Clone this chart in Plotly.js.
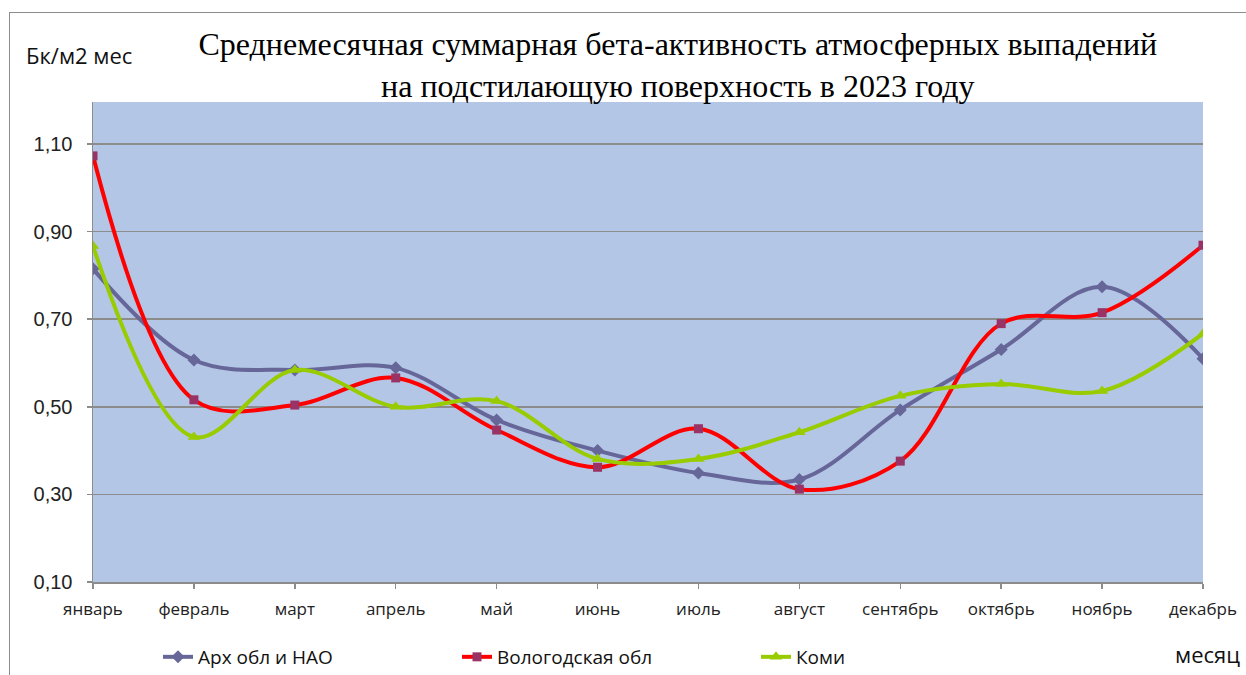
<!DOCTYPE html>
<html>
<head>
<meta charset="utf-8">
<script src="https://cdn.plot.ly/plotly-3.0.1.min.js"></script>
<style>
  html, body { margin: 0; padding: 0; background: #fff; }
  #wrap { position: relative; width: 1246px; height: 675px; overflow: hidden; }
  #chart { width: 1246px; height: 675px; }
  #frame { position: absolute; left: 9px; top: 12px; width: 1400px; height: 800px;
           border-left: 1.5px solid #8c8c8c; border-top: 1.5px solid #8c8c8c; pointer-events: none; }
</style>
</head>
<body>
<div id="wrap">
  <div id="chart"></div>
  <div id="frame"></div>
</div>
<script>
const months = ["январь","февраль","март","апрель","май","июнь","июль","август","сентябрь","октябрь","ноябрь","декабрь"];
const arkh   = [0.815, 0.607, 0.584, 0.589, 0.470, 0.400, 0.349, 0.334, 0.493, 0.631, 0.774, 0.610];
const vologda= [1.073, 0.516, 0.504, 0.566, 0.447, 0.362, 0.450, 0.312, 0.376, 0.690, 0.715, 0.869];
const komi   = [0.867, 0.431, 0.584, 0.500, 0.513, 0.381, 0.381, 0.442, 0.525, 0.552, 0.536, 0.667];
const seriesNames = ["Арх обл и НАО", "Вологодская обл", "Коми"];
const yTicks = [0.10, 0.30, 0.50, 0.70, 0.90, 1.10];

const traces = [
  {x: months, y: arkh, name: seriesNames[0], type: 'scatter', mode: 'lines+markers',
   line: {color: '#666699', width: 4, shape: 'spline', smoothing: 1},
   marker: {symbol: 'diamond', size: 10, color: '#666699'}},
  {x: months, y: vologda, name: seriesNames[1], type: 'scatter', mode: 'lines+markers',
   line: {color: '#FF0000', width: 4, shape: 'spline', smoothing: 1},
   marker: {symbol: 'square', size: 9, color: '#993366'}},
  {x: months, y: komi, name: seriesNames[2], type: 'scatter', mode: 'lines+markers',
   line: {color: '#99CC00', width: 4, shape: 'spline', smoothing: 1},
   marker: {symbol: 'triangle-up', size: 11, color: '#99CC00'}}
];

const layout = {
  width: 1246, height: 675,
  margin: {l: 93, r: 43, t: 102, b: 93, autoexpand: false},
  paper_bgcolor: 'rgba(0,0,0,0)',
  plot_bgcolor: '#B3C6E6',
  separators: ', ',
  showlegend: true,
  title: {
    text: 'Среднемесячная суммарная бета-активность атмосферных выпадений<br>на подстилающую поверхность в 2023 году',
    font: {family: 'Liberation Serif, Times New Roman, serif', size: 32, color: '#000'},
    x: 0.544, xanchor: 'center', xref: 'container',
    y: 0.918, yanchor: 'top', yref: 'container'
  },
  xaxis: {
    type: 'category', range: [0, 11],
    showgrid: false, zeroline: false,
    showline: true, linecolor: '#8c8c8c', linewidth: 1.5,
    ticks: 'outside', ticklen: 5, tickcolor: '#8c8c8c', tickwidth: 1.5,
    tickfont: {family: 'Open Sans, sans-serif', size: 17, color: '#222'},
    ticklabelstandoff: 6
  },
  yaxis: {
    range: [0.1, 1.196],
    tickvals: yTicks, tickformat: '.2f',
    showgrid: true, gridcolor: '#8c8c8c', gridwidth: 1.5,
    zeroline: false,
    showline: true, linecolor: '#8c8c8c', linewidth: 1.5,
    ticks: 'outside', ticklen: 5, tickcolor: '#8c8c8c', tickwidth: 1.5,
    tickfont: {family: 'Liberation Sans Narrow, Liberation Sans, Arial, sans-serif', size: 20, color: '#222'},
    ticklabelstandoff: 10
  },
  legend: {
    orientation: 'h', x: 158 / 1246, xanchor: 'left', y: 0.0267, yanchor: 'middle',
    yref: 'container', xref: 'container',
    font: {family: 'Open Sans, sans-serif', size: 19, color: '#111'},
    entrywidth: 254, entrywidthmode: 'pixels',
    bgcolor: 'rgba(0,0,0,0)', itemclick: false
  },
  annotations: [
    {text: 'Бк/м2 мес', xref: 'paper', yref: 'paper', x: -0.0622, y: 1.098,
     xanchor: 'left', yanchor: 'middle', showarrow: false,
     font: {family: 'Open Sans, sans-serif', size: 22, color: '#111'}},
    {text: 'месяц', xref: 'paper', yref: 'paper', x: 1.035, y: -0.150,
     xanchor: 'right', yanchor: 'middle', showarrow: false,
     font: {family: 'Open Sans, sans-serif', size: 22, color: '#111'}}
  ]
};

Plotly.newPlot('chart', traces, layout, {displayModeBar: false, staticPlot: true});
</script>
</body>
</html>
